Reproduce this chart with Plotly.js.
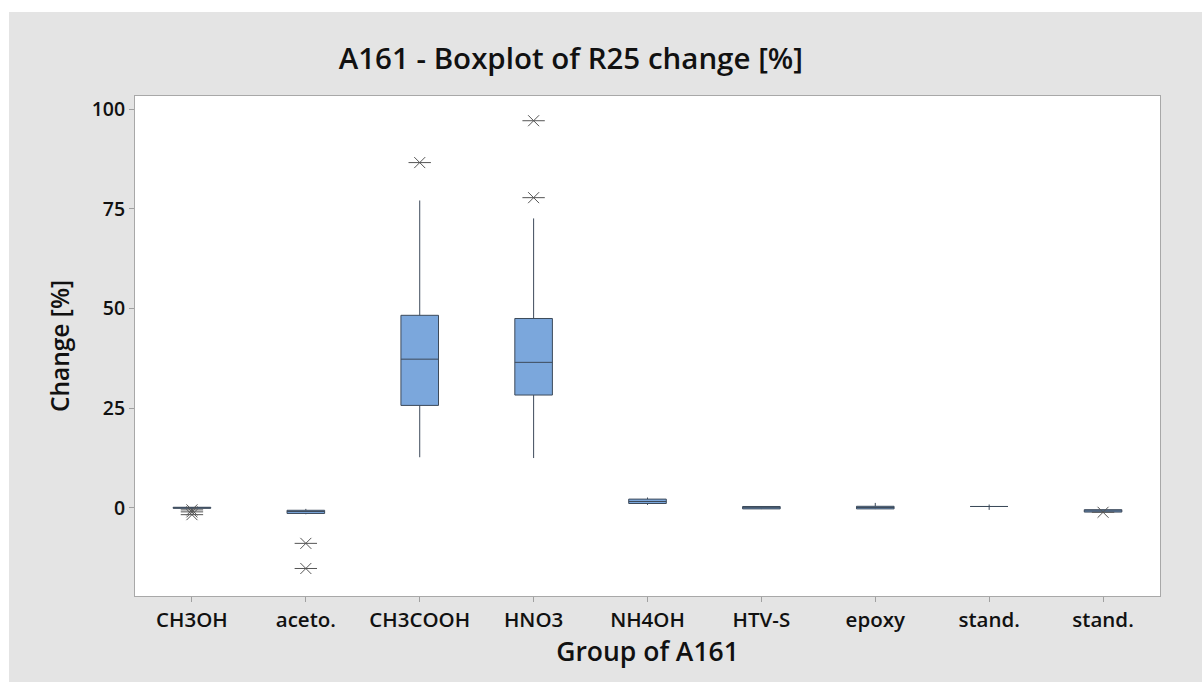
<!DOCTYPE html>
<html>
<head>
<meta charset="utf-8">
<script src="https://cdn.plot.ly/plotly-3.0.1.min.js"></script>
<style>
  html, body { margin: 0; padding: 0; background: #ffffff; }
  #chart { position: absolute; left: 9px; top: 12px; width: 1193px; height: 670px; }
</style>
</head>
<body>
<div id="chart"></div>
<script>
// Groups (tick labels)
const categories = ["CH3OH", "aceto.", "CH3COOH", "HNO3", "NH4OH", "HTV-S", "epoxy", "stand.", "stand."];
const groupIndex = [0, 1, 2, 3, 4, 5, 6, 7, 8];

// Box statistics (Change [%])
const q1Values     = [-0.1, -1.4, 25.7, 28.3, 1.1, -0.25, -0.25, 0.35, -1.05];
const medianValues = [0.0, -0.9, 37.3, 36.5, 1.6, 0.05, 0.1, 0.35, -0.75];
const q3Values     = [0.15, -0.6, 48.3, 47.5, 2.2, 0.35, 0.4, 0.35, -0.45];
const lowerWhisker = [-0.3, -1.6, 12.7, 12.5, 0.75, -0.3, -0.3, -0.5, -1.1];
const upperWhisker = [0.2, -0.25, 77.1, 72.6, 2.6, 0.4, 1.25, 0.85, -0.4];

// Outliers
const outlierGroup = [0, 0, 0, 1, 1, 2, 3, 3, 8];
const outlierValue = [-0.5, -1.0, -1.7, -8.9, -15.2, 86.6, 97.1, 77.8, -1.1];

const yTicks = [0, 25, 50, 75, 100];

const fontFamily = "'Open Sans', 'Noto Sans', sans-serif";

const traces = [
  {
    type: "box",
    x: groupIndex,
    q1: q1Values,
    median: medianValues,
    q3: q3Values,
    lowerfence: lowerWhisker,
    upperfence: upperWhisker,
    boxpoints: false,
    width: 0.33,
    whiskerwidth: 0,
    fillcolor: "#7ba7dc",
    line: { color: "#3d4a5a", width: 1 },
    hoverinfo: "skip",
    showlegend: false
  },
  {
    type: "scatter",
    mode: "markers",
    x: outlierGroup,
    y: outlierValue,
    marker: { symbol: "x-thin-open", size: 11, color: "#555555", line: { color: "#555555", width: 1 } },
    hoverinfo: "skip",
    showlegend: false
  },
  {
    type: "scatter",
    mode: "markers",
    x: outlierGroup,
    y: outlierValue,
    marker: { symbol: "line-ew-open", size: 16, color: "#555555", line: { color: "#555555", width: 1 } },
    hoverinfo: "skip",
    showlegend: false
  }
];

const layout = {
  width: 1193,
  height: 670,
  paper_bgcolor: "#e4e4e4",
  plot_bgcolor: "#ffffff",
  margin: { l: 126, r: 42, t: 84, b: 86 },
  title: {
    text: "A161 - Boxplot of R25 change [%]",
    font: { family: fontFamily, size: 29.5, color: "#111111", weight: 600 },
    xref: "container",
    x: 0.471, xanchor: "center",
    y: 0.93, yanchor: "middle"
  },
  xaxis: {
    range: [-0.5, 8.5],
    tickvals: groupIndex,
    ticktext: categories,
    ticks: "outside",
    ticklen: 5,
    tickcolor: "#a0a0a0",
    showgrid: false,
    zeroline: false,
    showline: true,
    mirror: true,
    linecolor: "#a8a8a8",
    linewidth: 1,
    tickfont: { family: fontFamily, size: 20.5, color: "#111111", weight: 600 },
    title: { text: "Group of A161", standoff: 7,
             font: { family: fontFamily, size: 26.5, color: "#111111", weight: 600 } }
  },
  yaxis: {
    range: [-22.1, 103.3],
    tickvals: yTicks,
    ticks: "outside",
    ticklen: 5,
    tickcolor: "#a0a0a0",
    showgrid: false,
    zeroline: false,
    showline: true,
    mirror: true,
    linecolor: "#a8a8a8",
    linewidth: 1,
    tickfont: { family: fontFamily, size: 19.5, color: "#111111", weight: 600 },
    title: { text: "Change [%]", standoff: 15,
             font: { family: fontFamily, size: 24.5, color: "#111111", weight: 600 } }
  }
};

Plotly.newPlot("chart", traces, layout, { staticPlot: true, displayModeBar: false });
</script>
</body>
</html>
